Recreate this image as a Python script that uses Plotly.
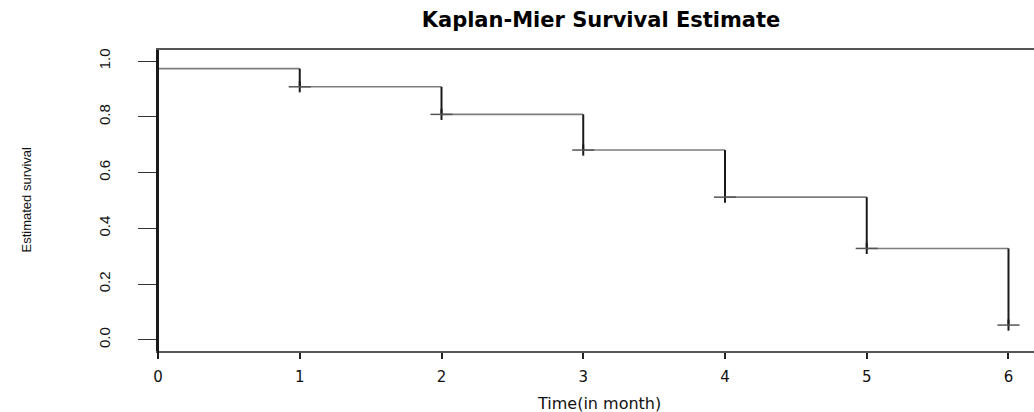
import plotly.graph_objects as go

# ---- data ----
times = [0, 1, 2, 3, 4, 5, 6]
surv = [0.973, 0.908, 0.809, 0.681, 0.512, 0.328, 0.053]
x_ticks = [0, 1, 2, 3, 4, 5, 6]
y_ticks = [0.0, 0.2, 0.4, 0.6, 0.8, 1.0]
y_tick_labels = ["0.0", "0.2", "0.4", "0.6", "0.8", "1.0"]
title_text = "Kaplan-Mier Survival Estimate"
x_title = "Time(in month)"
y_title = "Estimated survival"

# horizontal step segments
hx, hy = [], []
for i in range(len(times) - 1):
    hx += [times[i], times[i + 1], None]
    hy += [surv[i], surv[i], None]

# vertical drops
vx, vy = [0, 0, None], [1.0, surv[0], None]
for i in range(len(times) - 1):
    vx += [times[i + 1], times[i + 1], None]
    vy += [surv[i], surv[i + 1], None]

fig = go.Figure()
fig.add_trace(go.Scatter(x=hx, y=hy, mode="lines",
                         line=dict(color="#7d7d7d", width=1.6),
                         hoverinfo="skip", showlegend=False))
fig.add_trace(go.Scatter(x=vx, y=vy, mode="lines",
                         line=dict(color="#1a1a1a", width=2),
                         hoverinfo="skip", showlegend=False))
# censoring "+" marks
fig.add_trace(go.Scatter(
    x=times[1:], y=surv[1:], mode="markers",
    marker=dict(size=1, color="rgba(0,0,0,0)"),
    error_x=dict(type="constant", value=0.078, width=0, color="#555555", thickness=1.5),
    error_y=dict(type="constant", value=0.02, width=0, color="#1a1a1a", thickness=2),
    hoverinfo="skip", showlegend=False))

fig.update_layout(
    width=1034, height=412,
    margin=dict(l=158, r=0, t=50, b=61),
    paper_bgcolor="white", plot_bgcolor="white",
    showlegend=False,
    title=dict(text="<b>" + title_text + "</b>", x=601 / 1034, xanchor="center",
               y=1 - 20 / 412, yanchor="middle", xref="container", yref="container",
               font=dict(family="DejaVu Sans", size=21, color="black")),
)

fig.update_xaxes(
    range=[0, 6.18], tickvals=x_ticks, ticktext=[str(v) for v in x_ticks],
    showgrid=False, zeroline=False,
    showline=True, linecolor="#555555", linewidth=1.5, mirror=True,
    ticks="outside", ticklen=6, tickwidth=2, tickcolor="#222222",
    ticklabelstandoff=5,
    tickfont=dict(family="DejaVu Sans", size=15, color="#111111"),
)
fig.update_yaxes(
    range=[-0.04, 1.04], tickvals=y_ticks, ticktext=y_tick_labels,
    showgrid=False, zeroline=False,
    showline=True, linecolor="#1a1a1a", linewidth=2, mirror=False,
    ticks="outside", ticklen=18, tickwidth=1.3, tickcolor="#333333",
    tickangle=-90, ticklabelstandoff=22,
    tickfont=dict(family="Liberation Sans", size=15, color="#111111"),
)

# y axis line extends a bit below the x axis (R style)
fig.add_shape(type="line", xref="paper", yref="paper", x0=0, x1=0, y0=-0.024, y1=1,
              line=dict(color="#1a1a1a", width=2))

fig.add_annotation(text=x_title, xref="paper", yref="paper",
                   x=(599 - 158) / 876, y=(351 - 403) / 301,
                   xanchor="center", yanchor="middle", showarrow=False,
                   font=dict(family="DejaVu Sans", size=16, color="#111111"))
fig.add_annotation(text=y_title, xref="paper", yref="paper",
                   x=(25.5 - 158) / 876, y=(351 - 200) / 301,
                   xanchor="center", yanchor="middle", showarrow=False, textangle=-90,
                   font=dict(family="Liberation Sans", size=13, color="#111111"))

fig.write_html("out.html")
